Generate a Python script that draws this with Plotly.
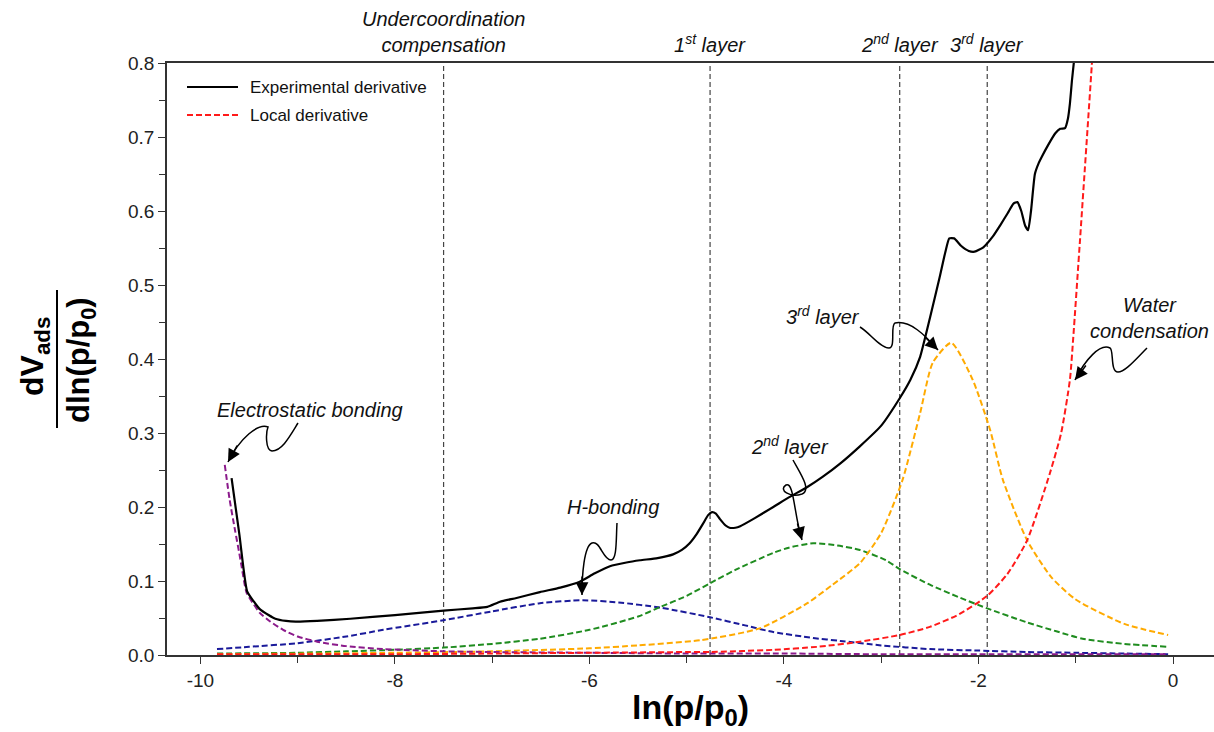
import plotly.graph_objects as go

# ---------------- data ----------------
exp_x = [-9.68, -9.60, -9.52, -9.45, -9.39, -9.30, -9.23, -9.12, -9.02, -8.80, -8.46, -8.0, -7.5, -7.2,
         -7.05, -6.92, -6.75, -6.51, -6.30, -6.10, -5.95, -5.79, -5.62, -5.48, -5.30, -5.14, -5.05, -4.97,
         -4.90, -4.83, -4.78, -4.74, -4.70, -4.66, -4.60, -4.56, -4.50, -4.45, -4.30, -4.11, -3.95, -3.76,
         -3.60, -3.42, -3.22, -3.00, -2.81, -2.70, -2.60, -2.50, -2.40, -2.34, -2.30, -2.25, -2.18, -2.10,
         -2.04, -1.95, -1.85, -1.78, -1.70, -1.64, -1.60, -1.56, -1.52, -1.49, -1.46, -1.42, -1.38, -1.35,
         -1.28, -1.21, -1.16, -1.11, -1.08, -1.06, -1.04, -1.02, -0.99]
exp_y = [0.239, 0.163, 0.086, 0.072, 0.062, 0.054, 0.049, 0.046, 0.045, 0.046, 0.049, 0.054, 0.060, 0.063,
         0.065, 0.072, 0.077, 0.085, 0.091, 0.099, 0.110, 0.120, 0.125, 0.128, 0.131, 0.136, 0.142, 0.151,
         0.163, 0.178, 0.189, 0.193, 0.191, 0.184, 0.175, 0.172, 0.172, 0.174, 0.185, 0.200, 0.213, 0.227,
         0.241, 0.259, 0.282, 0.310, 0.347, 0.372, 0.403, 0.455, 0.510, 0.545, 0.563, 0.563, 0.553, 0.546,
         0.545, 0.551, 0.566, 0.580, 0.597, 0.610, 0.612, 0.600, 0.580, 0.574, 0.600, 0.650, 0.665, 0.673,
         0.690, 0.705, 0.711, 0.712, 0.725, 0.745, 0.775, 0.800, 0.840]

local_x = [-9.83, -8.0, -7.0, -6.0, -5.0, -4.76, -4.11, -3.66, -3.22, -2.81, -2.5, -2.2, -1.91, -1.7,
           -1.5, -1.265, -1.15, -1.06, -1.025, -0.956, -0.836, -0.80]
local_y = [0.001, 0.001, 0.002, 0.003, 0.004, 0.004, 0.007, 0.011, 0.018, 0.027, 0.038, 0.055, 0.080, 0.110,
           0.155, 0.246, 0.300, 0.372, 0.430, 0.561, 0.795, 0.870]

elec_x = [-9.75, -9.70, -9.645, -9.60, -9.576, -9.525, -9.45, -9.39, -9.28, -9.15, -9.0, -8.80, -8.5, -8.12,
          -7.5, -7.0, -6.0, -5.0, -4.0, -3.0, -2.0, -1.0, -0.05]
elec_y = [0.257, 0.210, 0.169, 0.137, 0.119, 0.084, 0.068, 0.057, 0.045, 0.034, 0.025, 0.018, 0.012, 0.008,
          0.005, 0.004, 0.003, 0.002, 0.002, 0.001, 0.001, 0.001, 0.001]

hb_x = [-9.83, -9.5, -9.0, -8.5, -8.12, -7.5, -7.0, -6.51, -6.07, -5.7, -5.27, -4.76, -4.4, -4.11, -3.7,
        -3.42, -3.0, -2.5, -2.0, -1.5, -1.0, -0.5, -0.05]
hb_y = [0.008, 0.011, 0.016, 0.025, 0.034, 0.047, 0.059, 0.070, 0.074, 0.071, 0.064, 0.051, 0.040, 0.031,
        0.023, 0.019, 0.013, 0.008, 0.006, 0.004, 0.003, 0.002, 0.001]

l2_x = [-9.83, -9.0, -8.5, -8.0, -7.5, -7.0, -6.51, -6.0, -5.5, -5.27, -5.0, -4.76, -4.5, -4.11, -3.95,
        -3.70, -3.45, -3.22, -2.95, -2.81, -2.5, -2.2, -1.91, -1.5, -1.2, -0.93, -0.5, -0.05]
l2_y = [0.002, 0.003, 0.005, 0.007, 0.010, 0.015, 0.022, 0.034, 0.052, 0.065, 0.080, 0.097, 0.115, 0.138,
        0.145, 0.151, 0.148, 0.142, 0.128, 0.116, 0.095, 0.078, 0.063, 0.044, 0.032, 0.022, 0.015, 0.011]

l3_x = [-9.83, -8.0, -7.0, -6.0, -5.5, -4.86, -4.25, -3.76, -3.5, -3.22, -3.0, -2.78, -2.60, -2.47, -2.28,
        -2.06, -1.88, -1.75, -1.5, -1.25, -1.0, -0.5, -0.05]
l3_y = [0.001, 0.003, 0.005, 0.009, 0.013, 0.020, 0.036, 0.070, 0.095, 0.124, 0.165, 0.237, 0.327, 0.395,
        0.422, 0.372, 0.304, 0.237, 0.155, 0.105, 0.075, 0.042, 0.027]

x_ticks = [-10, -8, -6, -4, -2, 0]
y_ticks = [0.0, 0.1, 0.2, 0.3, 0.4, 0.5, 0.6, 0.7, 0.8]
marker_lines = [-7.5, -4.76, -2.81, -1.91]
marker_labels = ["<i>Undercoordination</i><br><i>compensation</i>", "<i>1<sup>st</sup> layer</i>",
                 "<i>2<sup>nd</sup> layer</i>", "<i>3<sup>rd</sup> layer</i>"]
legend_names = ["Experimental derivative", "Local derivative"]

# ---------------- geometry ----------------
W, H = 1214, 732
ML, MR, MT, MB = 167, 0, 63, 77
X0, X1 = -10.344, 0.4216
Y0, Y1 = 0.0, 0.8
PW, PH = W - ML - MR, H - MT - MB


def px2x(px):
    return X0 + (px - ML) / PW * (X1 - X0)


def py2y(py):
    return Y0 + (MT + PH - py) / PH * (Y1 - Y0)


def pxp(px):
    return (px - ML) / PW


def pyp(py):
    return (MT + PH - py) / PH


def pxpath(cmds):
    out = []
    for c in cmds:
        if isinstance(c, str):
            out.append(c)
        else:
            out.append(f"{px2x(c[0]):.4f},{py2y(c[1]):.5f}")
    return " ".join(out)


FONT = "Liberation Sans, Arial, Helvetica, sans-serif"
DASH = "6px,3px"
EXP_COL = "black"
LOC_COL = "#ff1a1a"

fig = go.Figure()
curves = [
    (hb_x, hb_y, "#1a1a9a"),
    (l2_x, l2_y, "#1f8c1f"),
    (l3_x, l3_y, "#ffaa00"),
    (elec_x, elec_y, "#8b1a8b"),
]
for xs, ys, col in curves:
    fig.add_trace(go.Scatter(x=xs, y=ys, mode="lines", showlegend=False,
                             line=dict(color=col, width=2, dash=DASH, shape="spline", smoothing=0.6)))

fig.add_trace(go.Scatter(x=local_x, y=local_y, mode="lines", name=legend_names[1], showlegend=False,
                         line=dict(color=LOC_COL, width=2, dash=DASH, shape="spline", smoothing=0.6)))
fig.add_trace(go.Scatter(x=exp_x, y=exp_y, mode="lines", name=legend_names[0], showlegend=False,
                         line=dict(color=EXP_COL, width=2.2, shape="spline", smoothing=0.5)))

# manual legend
for i, (name, col, dash, wdt) in enumerate([(legend_names[0], EXP_COL, "solid", 2.2),
                                             (legend_names[1], LOC_COL, DASH, 2)]):
    yy = 87 + 28 * i
    fig.add_shape(type="line", xref="paper", yref="paper", x0=pxp(187), x1=pxp(238), y0=pyp(yy), y1=pyp(yy),
                  line=dict(color=col, width=wdt, dash=dash))
    fig.add_annotation(x=pxp(248), y=pyp(yy), xref="paper", yref="paper", text=name, showarrow=False,
                       xanchor="left", yanchor="middle", font=dict(family=FONT, size=17, color="#111"))

# vertical dashed marker lines
for xv in marker_lines:
    fig.add_shape(type="line", x0=xv, x1=xv, y0=0, y1=0.8, xref="x", yref="y",
                  line=dict(color="#444444", width=1.2, dash="5px,3px"), layer="below")

# top labels
for xv, lab in zip(marker_lines, marker_labels):
    fig.add_annotation(x=xv, y=1.0, xref="x", yref="paper", text=lab, showarrow=False,
                       yanchor="bottom", yshift=5, font=dict(family=FONT, size=20, color="#111"))

# squiggle arrows (annotation decorations)
squiggles = [
    ("<i>Electrostatic bonding</i>", (310, 410),
     ["M", (298, 423), "C", (290, 436), (282, 451), (272, 451), "C", (265, 450), (266, 432), (268, 427),
      "C", (258, 423), (240, 438), (228, 462)], (228, 462), (10, -18)),
    ("<i>H-bonding</i>", (613, 507),
     ["M", (617, 523), "C", (616, 540), (617, 560), (611, 560), "C", (603, 560), (600, 540), (592, 543),
      "C", (584, 546), (582, 575), (582, 595)], (582, 595), (0, -20)),
    ("<i>2<sup>nd</sup> layer</i>", (790, 445),
     ["M", (793, 460), "C", (800, 473), (812, 490), (802, 494), "C", (790, 498), (778, 490), (786, 485),
      "C", (794, 481), (794, 515), (802, 540)], (802, 540), (-5, -18)),
    ("<i>3<sup>rd</sup> layer</i>", (823, 315),
     ["M", (860, 327), "C", (870, 333), (880, 348), (889, 348), "C", (896, 348), (890, 325), (895, 323),
      "C", (910, 320), (925, 335), (938, 350)], (938, 350), (-14, -14)),
    ("<i>Water</i><br><i>condensation</i>", (1149, 318),
     ["M", (1147, 348), "C", (1135, 360), (1125, 372), (1118, 372), "C", (1110, 372), (1114, 350), (1110, 348),
      "C", (1100, 343), (1085, 360), (1075, 380)], (1075, 380), (12, -16)),
]
for text, (tx, ty), path, (hx, hy), (ax, ay) in squiggles:
    fig.add_annotation(x=px2x(tx), y=py2y(ty), xref="x", yref="y", text=text, showarrow=False,
                       xanchor="center", yanchor="middle", font=dict(family=FONT, size=20, color="#111"))
    fig.add_shape(type="path", path=pxpath(path), xref="x", yref="y",
                  line=dict(color="black", width=1.5))
    fig.add_annotation(x=px2x(hx), y=py2y(hy), xref="x", yref="y", text="", showarrow=True,
                       ax=ax, ay=ay, arrowhead=2, arrowsize=1.7, arrowwidth=1.5, arrowcolor="black",
                       standoff=0)

# y-axis title as a fraction
fig.add_annotation(x=pxp(34), y=pyp(357), xref="paper", yref="paper", text="<b>dV<sub>ads</sub></b>",
                   showarrow=False, textangle=-90, xanchor="center", yanchor="middle",
                   font=dict(family=FONT, size=32, color="black"))
fig.add_annotation(x=pxp(81), y=pyp(360), xref="paper", yref="paper", text="<b>dln(p/p<sub>0</sub>)</b>",
                   showarrow=False, textangle=-90, xanchor="center", yanchor="middle",
                   font=dict(family=FONT, size=31, color="black"))
fig.add_shape(type="line", xref="paper", yref="paper", x0=pxp(57), x1=pxp(57), y0=pyp(290), y1=pyp(428),
              line=dict(color="black", width=2))

fig.update_layout(
    width=W, height=H,
    margin=dict(l=ML, r=MR, t=MT, b=MB),
    paper_bgcolor="white", plot_bgcolor="white",
    font=dict(family=FONT, size=19, color="#222"),
    showlegend=False,
    xaxis=dict(range=[X0, X1], tickmode="array", tickvals=x_ticks, ticktext=[str(v) for v in x_ticks],
               ticks="outside", ticklen=7, tickwidth=1.2, tickcolor="#333",
               tickfont=dict(family=FONT, size=19, color="#222"),
               minor=dict(dtick=1, ticks="outside", ticklen=6, tickwidth=1.2, tickcolor="#333"),
               showline=True, linecolor="#333", linewidth=1.5, mirror=True, showgrid=False, zeroline=False,
               title=dict(text="<b>ln(p/p<sub>0</sub>)</b>", font=dict(family=FONT, size=34, color="black"),
                          standoff=6)),
    yaxis=dict(range=[Y0, Y1], tickmode="array", tickvals=y_ticks, ticktext=[f"{v:.1f}" for v in y_ticks],
               ticks="outside", ticklen=7, tickwidth=1.2, tickcolor="#333",
               tickfont=dict(family=FONT, size=19, color="#222"),
               minor=dict(dtick=0.05, ticks="outside", ticklen=6, tickwidth=1.2, tickcolor="#333"),
               showline=True, linecolor="#333", linewidth=1.5, showgrid=False, zeroline=False),
)

fig.write_html("out.html")
